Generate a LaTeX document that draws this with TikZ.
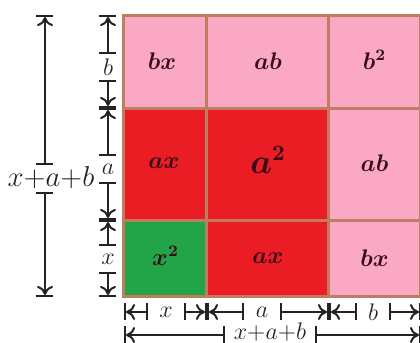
\documentclass[tikz,border=0pt]{standalone}
\usepackage{amsmath}
\usepackage{bm}
\usetikzlibrary{arrows.meta}
\definecolor{pinkc}{RGB}{250,168,196}
\definecolor{redc}{RGB}{234,28,36}
\definecolor{greenc}{RGB}{34,164,72}
\definecolor{gridc}{RGB}{190,125,95}
\definecolor{textc}{RGB}{55,12,22}
\definecolor{dimc}{RGB}{35,35,35}

\begin{document}
\begin{tikzpicture}[x=0.5pt,y=-0.5pt,>={To[length=4.5pt,width=8pt]},
        |/.tip={Bar[width=8.5pt]},
        dim/.style={line width=1pt,draw=dimc},
        dimlab/.style={inner xsep=5.5pt,inner ysep=1pt,minimum height=13pt,font=\fontsize{13}{15}\selectfont,text=dimc},
        cell/.style={inner sep=0pt,font=\fontsize{12}{14}\selectfont\boldmath,text=textc}]
        \useasboundingbox (0,0) rectangle (420,343);
        \clip (0,0) rectangle (420,343);
        % the square
        \fill [pinkc] (124,15) rectangle (421,108);
        \fill [pinkc] (329,108) rectangle (421,297);
        \fill [redc] (124,108) rectangle (329,220);
        \fill [redc] (207,220) rectangle (329,297);
        \fill [greenc] (124,220) rectangle (207,297);
        \draw [gridc,line width=1.5pt] (124,15) rectangle (421,297);
        \draw [gridc,line width=1.5pt] (207,15) -- (207,297);
        \draw [gridc,line width=1.5pt] (329,15) -- (329,297);
        \draw [gridc,line width=1.5pt] (124,108) -- (421,108);
        \draw [gridc,line width=1.5pt] (124,220) -- (421,220);
        \node [cell] (bx1) at (162,61.5) {$bx$};
        \node [cell] (ab1) at (268,61.5) {$ab$};
        \node [cell] (bb) at (374.5,60) {$b^2$};
        \node [cell] (ax1) at (164,163) {$ax$};
        \node [cell,font=\fontsize{16}{18}\selectfont\boldmath] (aa) at (268,160) {$a^2$};
        \node [cell] (ab2) at (374.5,163) {$ab$};
        \node [cell] (xx) at (165.5,256) {$x^2$};
        \node [cell] (ax2) at (268,258.5) {$ax$};
        \node [cell] (bx2) at (374.5,258.5) {$bx$};
        % left side
        \coordinate (l0) at (45,15);
        \coordinate (l1) at (45,297);
        \node [dimlab,font=\fontsize{14}{16}\selectfont,inner xsep=0pt] (lsum) at (51,178) {$x{+}a{+}b$};
        \draw [dim,|<-|] (l0) -- (l0 |- lsum.north);
        \draw [dim,|->|] (l0 |- lsum.south) -- (l1);
        \coordinate (v0) at (108,15);
        \coordinate (v1) at (108,108);
        \coordinate (v2) at (108,220);
        \coordinate (v3) at (108,297);
        \node [dimlab] (vb) at (108,67) {$b$};
        \node [dimlab] (va) at (108,169) {$a$};
        \node [dimlab] (vx) at (108,259) {$x$};
        \draw [dim,|<-|] (v0) -- (vb.north);
        \draw [dim,|->|] (vb.south) -- (v1);
        \draw [dim,|<-|] (v1) -- (va.north);
        \draw [dim,|->|] (va.south) -- (v2);
        \draw [dim,|<-|] (v2) -- (vx.north);
        \draw [dim,|->|] (vx.south) -- (v3);
        % bottom side
        \coordinate (h0) at (124,312);
        \coordinate (h1) at (207,312);
        \coordinate (h2) at (329,312);
        \coordinate (h3) at (421,312);
        \node [dimlab] (hx) at (166,312) {$x$};
        \node [dimlab] (ha) at (262,312) {$a$};
        \node [dimlab] (hb) at (373,312) {$b$};
        \draw [dim,|<-|] (h0) -- (hx.west);
        \draw [dim,|->|] (hx.east) -- (h1);
        \draw [dim,|<-|] (h1) -- (ha.west);
        \draw [dim,|->|] (ha.east) -- (h2);
        \draw [dim,|<-|] (h2) -- (hb.west);
        \draw [dim,|->|] (hb.east) -- (h3);
        \coordinate (t0) at (124,335);
        \coordinate (t1) at (421,335);
        \node [dimlab,minimum height=0pt,inner xsep=4pt] (hsum) at (270,332) {$x{+}a{+}b$};
        \draw [dim,|<-|] (t0) -- (hsum.west |- t0);
        \draw [dim,|->|] (hsum.east |- t0) -- (t1);
    \end{tikzpicture}
\end{document}
